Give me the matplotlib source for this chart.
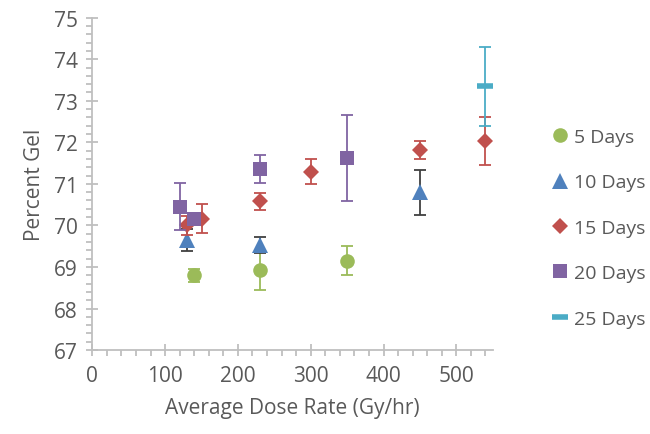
import matplotlib.pyplot as plt
from matplotlib.lines import Line2D
from matplotlib.ticker import MultipleLocator

plt.rcParams['font.family'] = ['Open Sans', 'DejaVu Sans']

# Data: dose rate (Gy/hr), percent gel, error
days_5_x = [140, 230, 350]
days_5_y = [68.80, 68.92, 69.15]
days_5_err = [0.16, 0.47, 0.35]

days_10_x = [130, 230, 450]
days_10_y = [69.65, 69.52, 70.80]
days_10_err = [0.27, 0.19, 0.54]

days_15_x = [130, 150, 230, 300, 450, 540]
days_15_y = [70.00, 70.16, 70.58, 71.29, 71.82, 72.04]
days_15_err = [0.22, 0.35, 0.21, 0.30, 0.21, 0.58]

days_20_x = [120, 140, 230, 350]
days_20_y = [70.45, 70.16, 71.35, 71.62]
days_20_err = [0.56, 0.08, 0.34, 1.03]

days_25_x = [540]
days_25_y = [73.35]
days_25_err = [0.95]

series = [
    ("5 Days", days_5_x, days_5_y, days_5_err, '#9BBB59', '#9BBB59', 'o', 10.5),
    ("10 Days", days_10_x, days_10_y, days_10_err, '#4F81BD', '#404040', '^', 11),
    ("15 Days", days_15_x, days_15_y, days_15_err, '#C0504D', '#C0504D', 'D', 8.5),
    ("20 Days", days_20_x, days_20_y, days_20_err, '#8064A2', '#8064A2', 's', 10.5),
    ("25 Days", days_25_x, days_25_y, days_25_err, '#4BACC6', '#4BACC6', '_', 12),
]

text_color = '#595959'
axis_color = '#BFBFBF'

fig = plt.figure(figsize=(6.5, 4.35), dpi=100)
ax = fig.add_axes([0.142, 0.193, 0.616, 0.764])

handles = []
for i, (label, x, y, err, color, ecolor, marker, size) in enumerate(series):
    mew = 4 if marker == '_' else 0
    ax.errorbar(x, y, yerr=err, fmt='none', ecolor=ecolor, elinewidth=1.3,
                capsize=4.5, capthick=1.3, zorder=2 + i * 0.1)
    ax.plot(x, y, linestyle='none', marker=marker, color=color,
            markersize=size, markeredgewidth=mew, zorder=2.05 + i * 0.1)
    handles.append(Line2D([], [], linestyle='none', marker=marker, color=color,
                          markersize=size, markeredgewidth=mew))

ax.set_xlim(0, 550)
ax.set_ylim(67, 75)
ax.xaxis.set_major_locator(MultipleLocator(100))
ax.xaxis.set_minor_locator(MultipleLocator(20))
ax.yaxis.set_major_locator(MultipleLocator(1))
ax.yaxis.set_minor_locator(MultipleLocator(0.2))

for side in ['top', 'right']:
    ax.spines[side].set_visible(False)
for side in ['left', 'bottom']:
    ax.spines[side].set_color(axis_color)
    ax.spines[side].set_linewidth(1.3)

ax.tick_params(which='major', direction='inout', length=9, width=1.3,
               color=axis_color, labelsize=15, labelcolor=text_color, pad=6)
ax.tick_params(which='minor', direction='out', length=4, width=1.3,
               color=axis_color)

ax.set_xlabel("Average Dose Rate (Gy/hr)", fontsize=15, color=text_color, labelpad=8)
ax.set_ylabel("Percent Gel", fontsize=15, color=text_color, labelpad=6)

fig.legend(handles=handles, labels=[s[0] for s in series],
           loc='upper left', bbox_to_anchor=(0.835, 0.726), frameon=False,
           fontsize=14, labelcolor=text_color, handlelength=0.8,
           handletextpad=0.3, labelspacing=1.41, borderpad=0)

fig.savefig('out.png', dpi=100)
